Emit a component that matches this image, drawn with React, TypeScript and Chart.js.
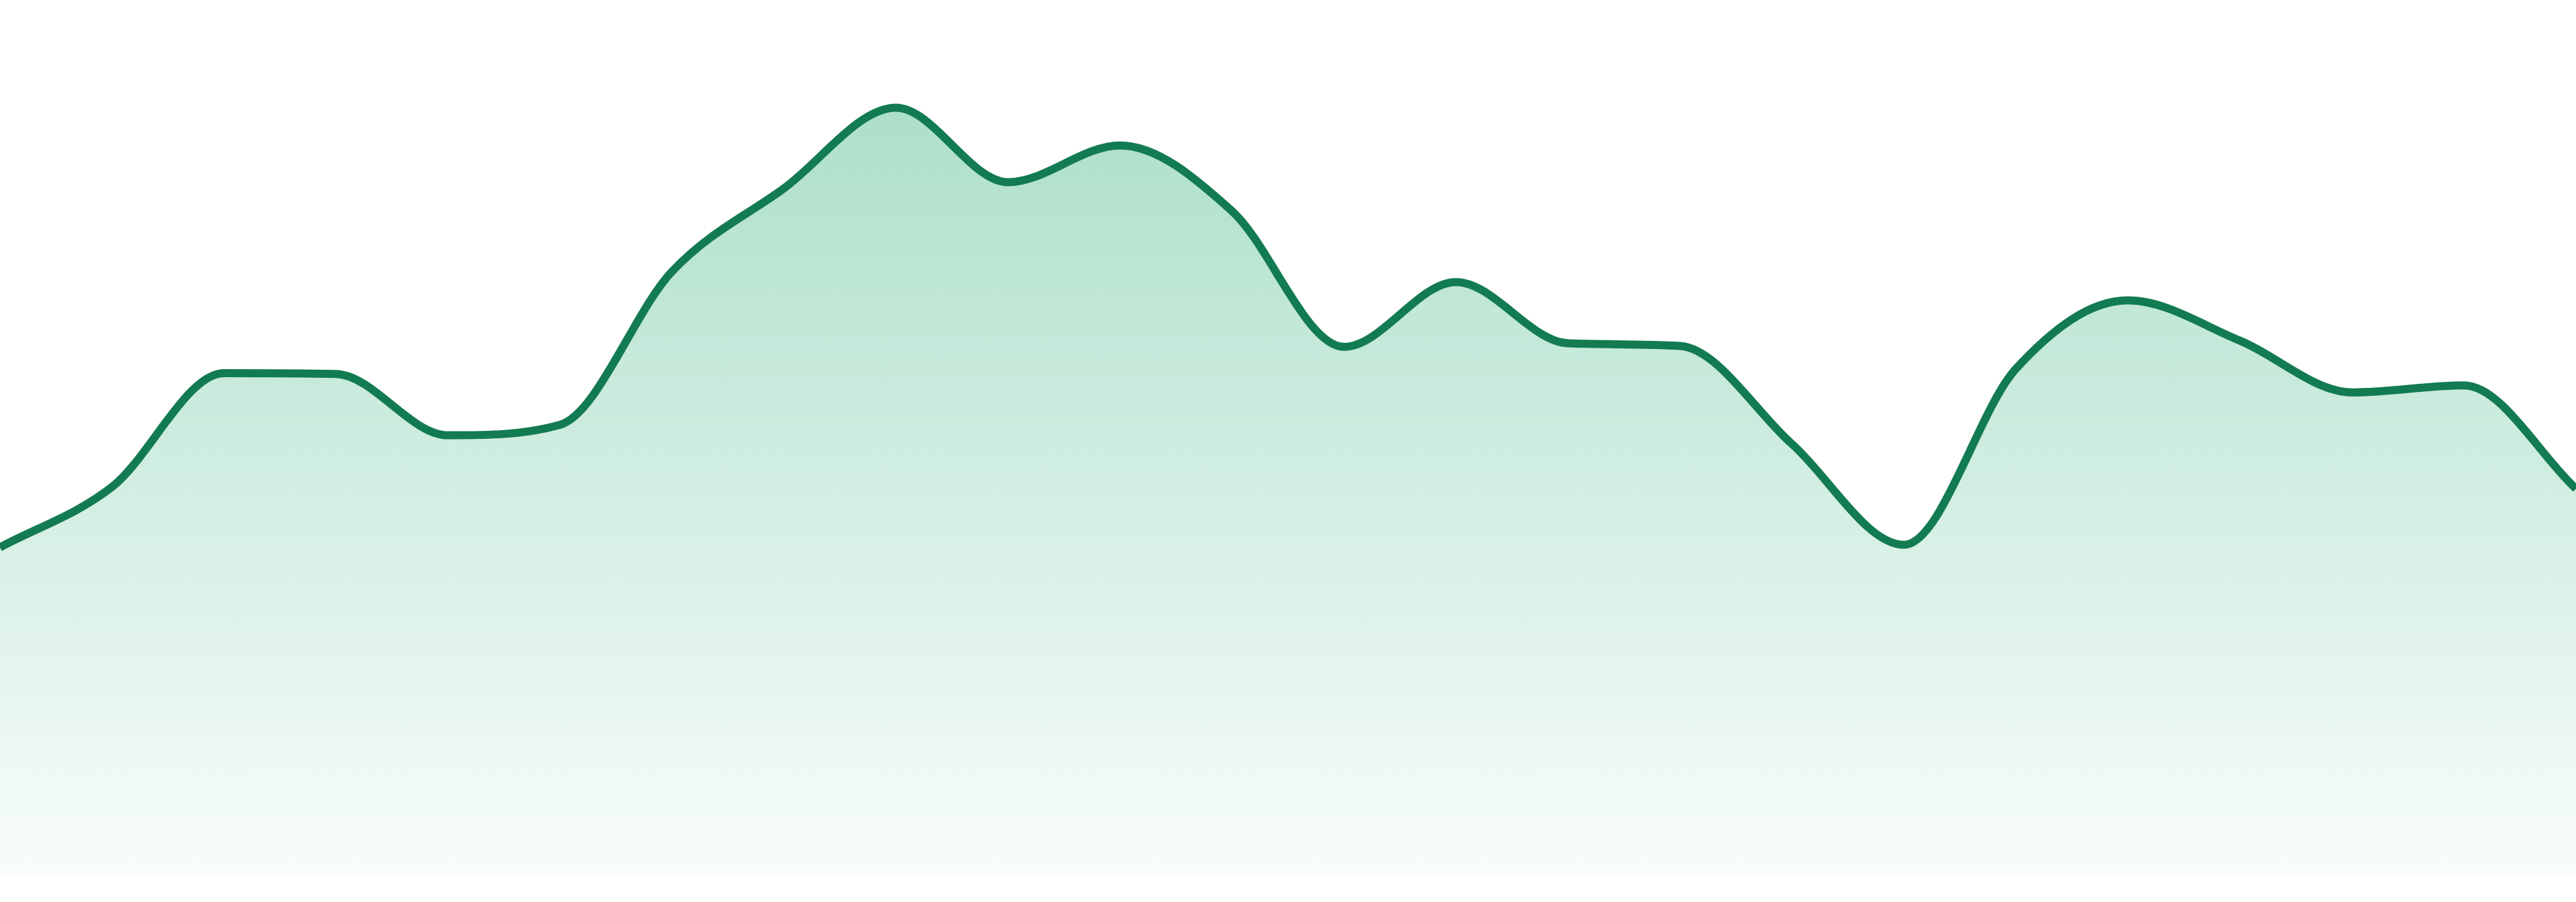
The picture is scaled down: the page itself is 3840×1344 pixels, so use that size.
import { useEffect, useRef } from 'react';
import { Chart, registerables } from 'chart.js';

Chart.register(...registerables);

const labels: string[] = [
  'P1', 'P2', 'P3', 'P4', 'P5', 'P6', 'P7', 'P8', 'P9', 'P10', 'P11', 'P12',
  'P13', 'P14', 'P15', 'P16', 'P17', 'P18', 'P19', 'P20', 'P21', 'P22', 'P23', 'P24',
];

const values: number[] = [
  37.5, 44.4, 57.4, 57.3, 50.3, 51.5, 69.0, 78.5, 87.7, 79.2, 83.4, 75.9,
  60.4, 67.8, 60.8, 60.5, 49.3, 37.8, 57.9, 65.7, 61.1, 55.2, 56.0, 44.2,
];

const yMin = 0;
const yMax = 100;

export default function App() {
  const canvasRef = useRef<HTMLCanvasElement | null>(null);
  const chartRef = useRef<Chart | null>(null);

  useEffect(() => {
    document.body.style.margin = '0';
    if (!canvasRef.current) return;
    if (chartRef.current) chartRef.current.destroy();

    const ctx = canvasRef.current.getContext('2d');
    if (!ctx) return;

    chartRef.current = new Chart(ctx, {
      type: 'line',
      data: {
        labels,
        datasets: [
          {
            data: values,
            borderColor: '#137b51',
            borderWidth: 12,
            cubicInterpolationMode: 'monotone',
            pointRadius: 0,
            fill: 'start',
            backgroundColor: (c: any) => {
              const area = c.chart.chartArea;
              if (!area) return 'rgba(52, 177, 125, 0.3)';
              const g = c.chart.ctx.createLinearGradient(0, area.top, 0, area.bottom);
              g.addColorStop(0, 'rgba(52, 177, 125, 0.46)');
              g.addColorStop(1, 'rgba(52, 177, 125, 0.03)');
              return g;
            },
          },
        ],
      },
      options: {
        animation: false,
        responsive: false,
        devicePixelRatio: 1,
        layout: { padding: { top: 0, left: 0, right: 0, bottom: 39 } },
        scales: {
          x: { display: false, offset: false },
          y: { display: false, min: yMin, max: yMax },
        },
        plugins: {
          legend: { display: false },
          tooltip: { enabled: false },
        },
      },
    });

    return () => {
      if (chartRef.current) {
        chartRef.current.destroy();
        chartRef.current = null;
      }
    };
  }, []);

  return (
    <div style={{ width: '3840px', height: '1344px', background: '#fff' }}>
      <canvas ref={canvasRef} width={3840} height={1344} style={{ display: 'block', width: '3840px', height: '1344px' }}></canvas>
    </div>
  );
}
